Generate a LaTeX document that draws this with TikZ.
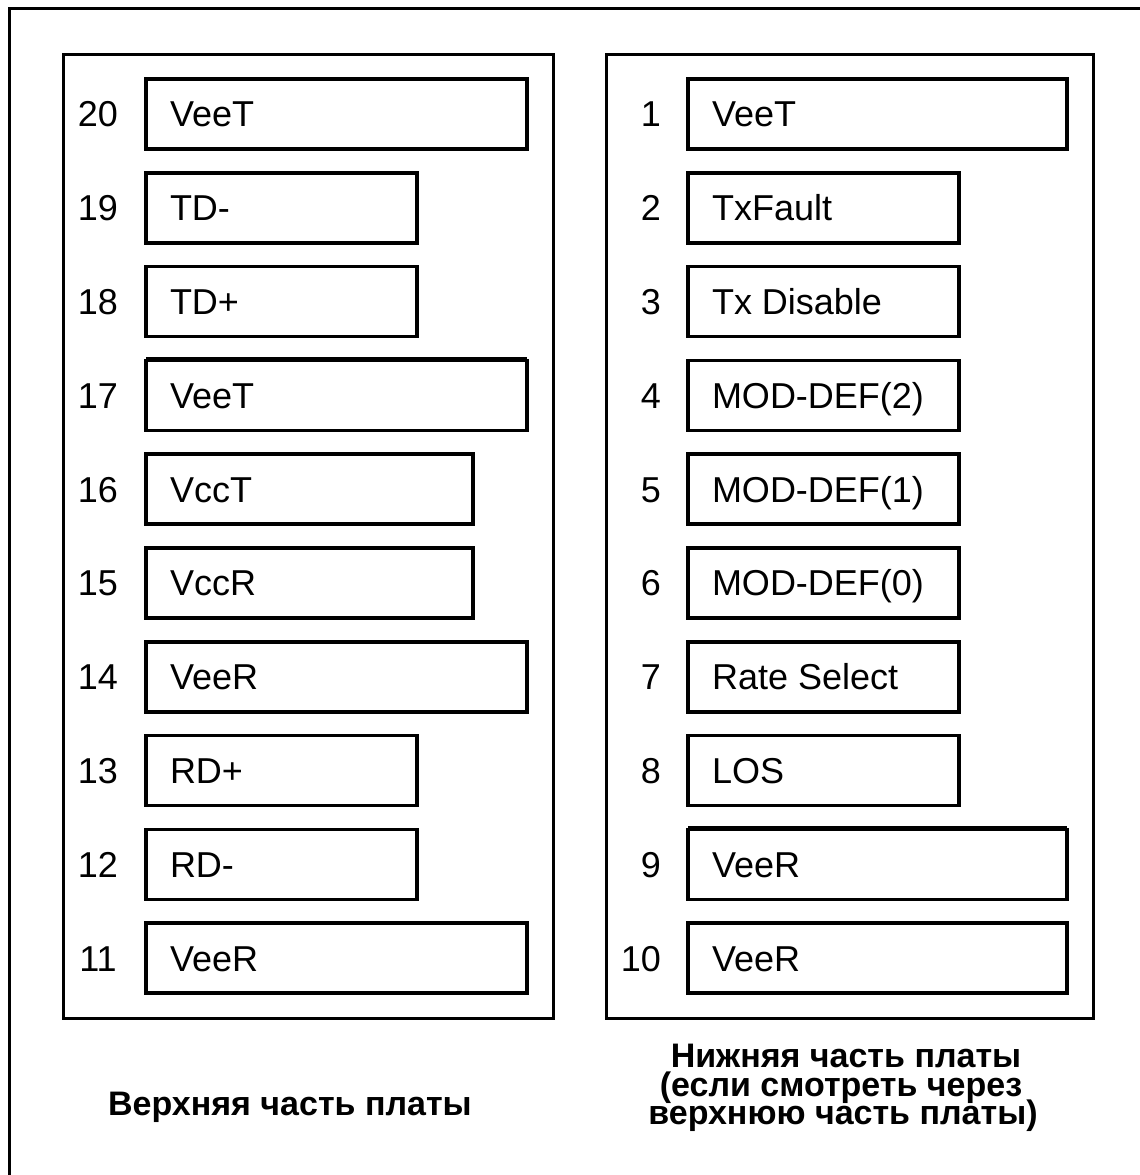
\documentclass[tikz,border=0pt]{standalone}
\usepackage{fontspec}
\setmainfont{Liberation Sans}
\begin{document}
\begin{tikzpicture}[x=1pt,y=-1pt,
  pinbox/.style={draw, line width=3.5pt, minimum height=70pt, inner xsep=24pt, inner ysep=0pt, outer sep=0pt,
    anchor=north west, text height=25.8pt, text depth=0pt, font=\fontsize{36}{40}\selectfont},
  pinnum/.style={inner sep=0pt, text height=25.8pt, text depth=0pt, font=\fontsize{36}{40}\selectfont},
  panel/.style={draw, line width=3pt},
  caption/.style={inner sep=0pt, anchor=base, font=\bfseries\fontsize{34}{28}\selectfont}]
\useasboundingbox[fill=white] (0,0) rectangle (1140,1175);
% outer frame (only left and top edges visible)
\coordinate (fbl) at (9,1180);
\coordinate (ftl) at (9,8);
\coordinate (ftr) at (1145,8);
\draw[line width=3pt] (fbl) -- (ftl) -- (ftr);
% panels
\draw[panel] (63,54) rectangle (553,1018);
\draw[panel] (606,54) rectangle (1093,1018);
% left column
\foreach \n/\t/\r [count=\i from 0] in {20/VeeT/527,19/TD-/417,18/TD+/417,17/VeeT/527,16/VccT/473,15/VccR/473,14/VeeR/527,13/RD+/417,12/RD-/417,11/VeeR/527}{
  \pgfmathsetmacro\rowy{79+93.8*\i}
  \pgfmathsetlengthmacro\boxw{\r-146-48}
  \node[pinbox] (p\n) at (146,\rowy) {\makebox[\boxw][l]{\t}};
  \node[pinnum] (n\n) at (98,\rowy+35) {\n};
}
% right column
\foreach \n/\t/\r [count=\i from 0] in {1/VeeT/1067,2/TxFault/959,3/Tx Disable/959,4/MOD-DEF(2)/959,5/MOD-DEF(1)/959,6/MOD-DEF(0)/959,7/Rate Select/959,8/LOS/959,9/VeeR/1067,10/VeeR/1067}{
  \pgfmathsetmacro\rowy{79+93.8*\i}
  \pgfmathsetlengthmacro\boxw{\r-688-48}
  \node[pinbox] (p\n) at (688,\rowy) {\makebox[\boxw][l]{\t}};
  \node[pinnum, anchor=east] (n\n) at (661,\rowy+35) {\n};
}
% slightly heavier top edges seen in the reference
\draw[line width=5.5pt] ([yshift=1pt]p17.north west) -- ([yshift=1pt]p17.north east);
\draw[line width=5.5pt] ([yshift=1pt]p9.north west) -- ([yshift=1pt]p9.north east);
% captions
\node[caption] (capL) at (290,1115) {Верхняя часть платы};
\node[caption] (capR1) at (846,1067) {Нижняя часть платы};
\node[caption] (capR2) at (841,1096) {(если смотреть через};
\node[caption] (capR3) at (843,1124) {верхнюю часть платы)};
\end{tikzpicture}
\end{document}
